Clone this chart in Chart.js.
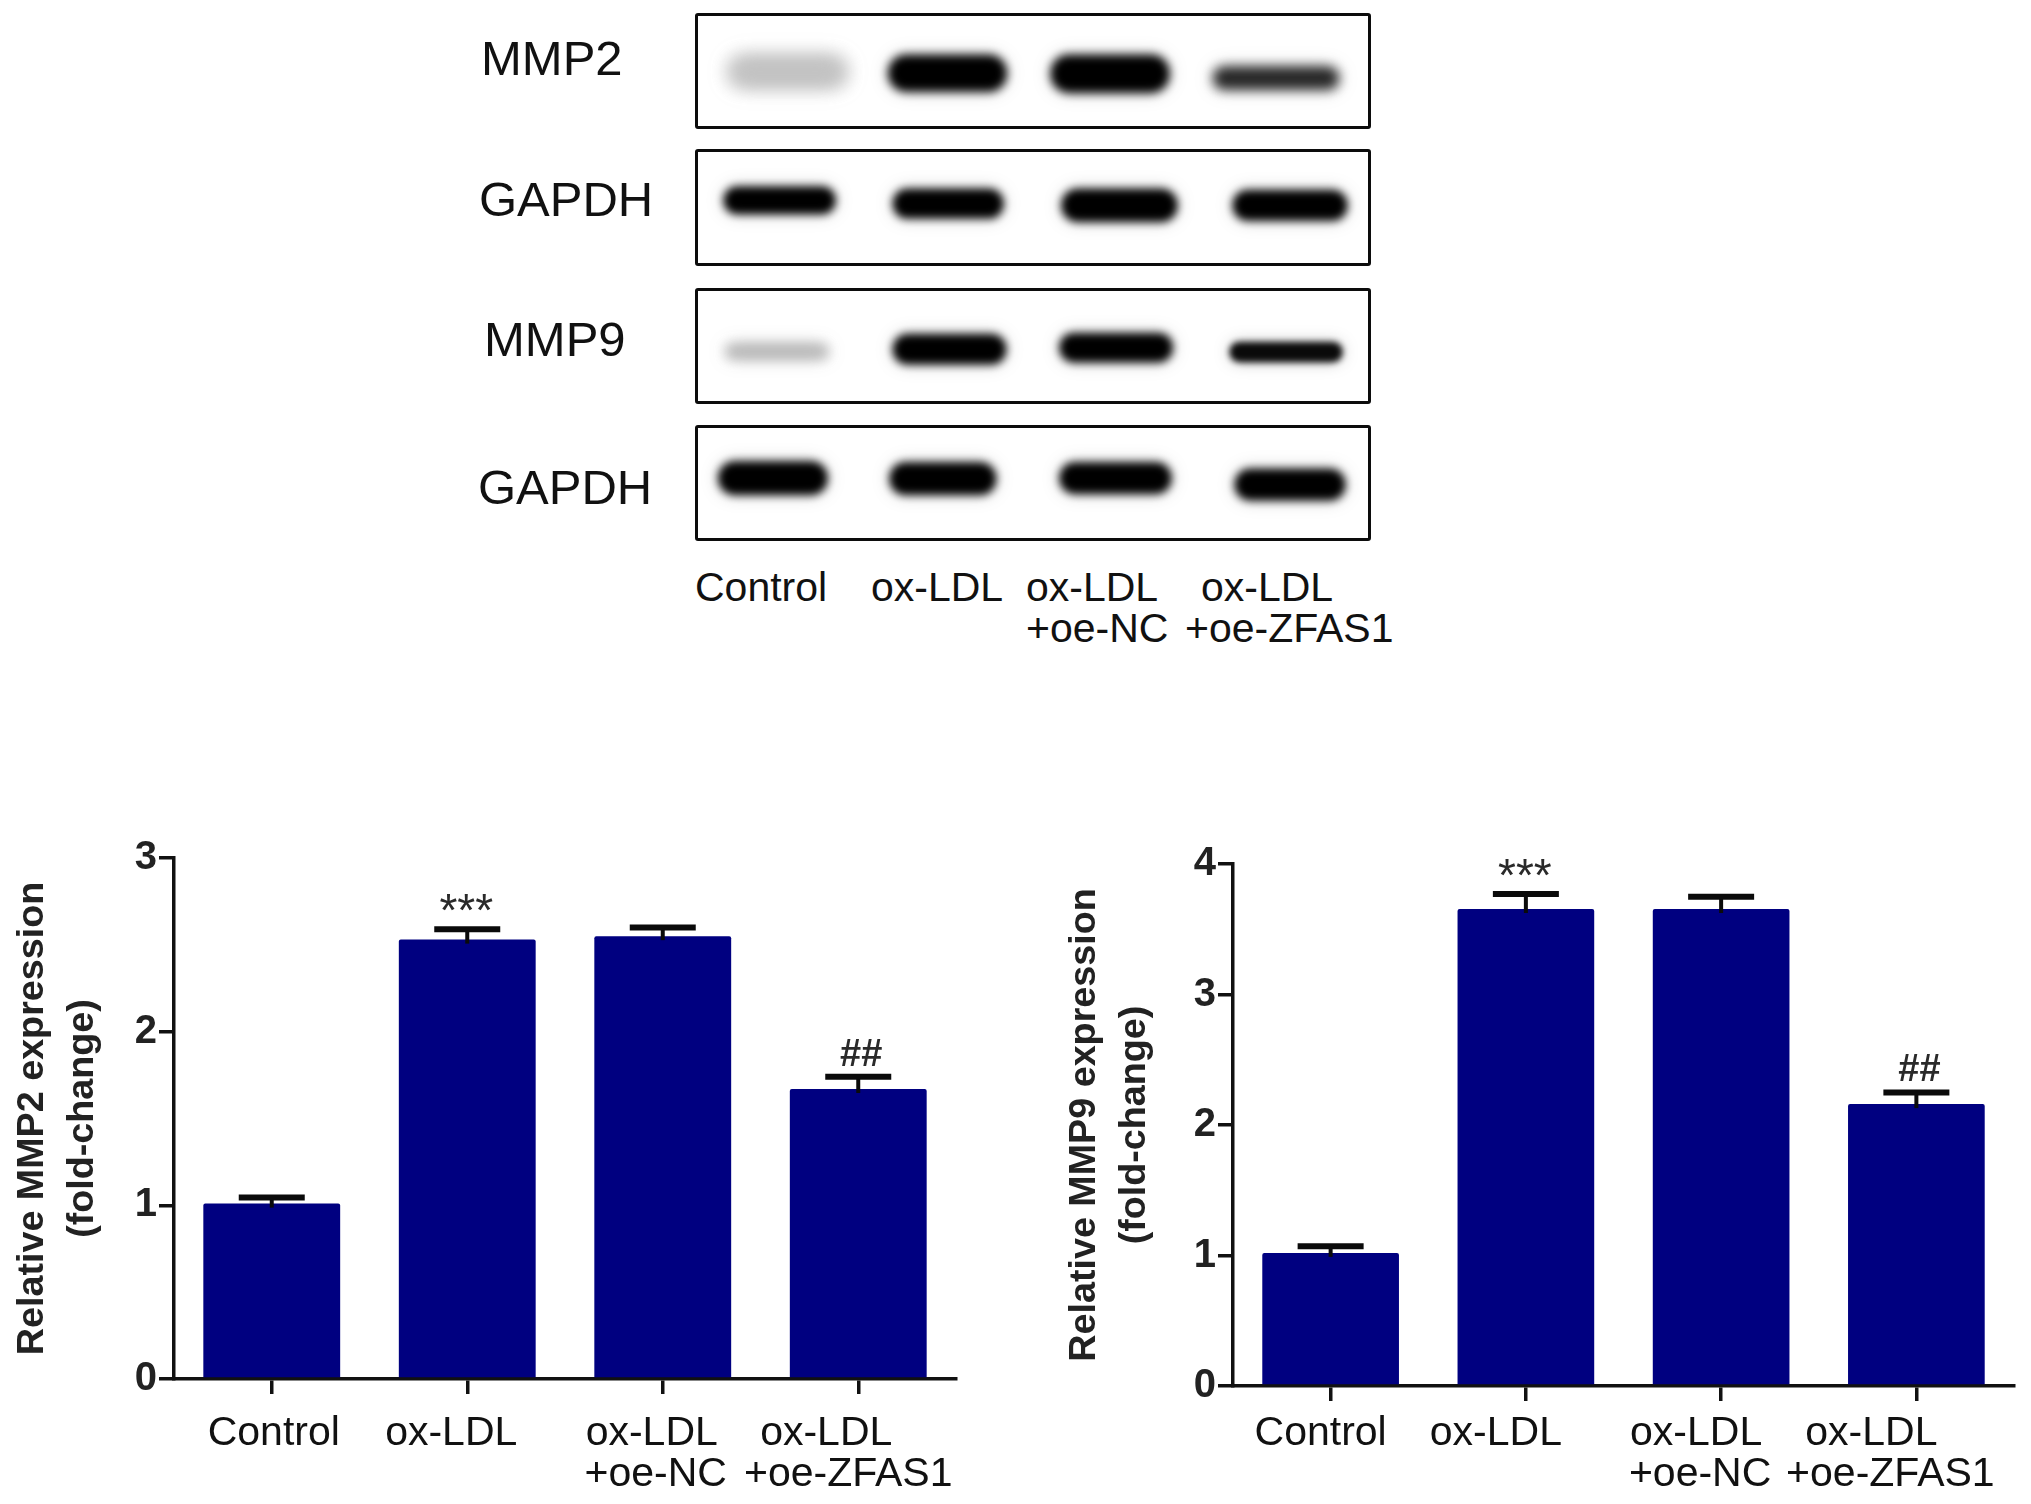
<!DOCTYPE html>
<html><head><meta charset="utf-8">
<script src="https://cdn.jsdelivr.net/npm/chart.js@4"></script>
<style>
html,body{margin:0;padding:0;background:#fff;width:2031px;height:1504px;overflow:hidden}
body{position:relative;font-family:"Liberation Sans",Arial,sans-serif}
canvas{position:absolute;display:block}
.frame{position:absolute;box-sizing:border-box;border:3.5px solid #0c0c0c;border-radius:3px;overflow:hidden;background:#fff}
.lbl{position:absolute;white-space:nowrap;color:#111;line-height:1;transform:translateY(-50%)}
</style></head><body>
<div id="root"></div>
<script>
// ---- bar chart data ----
const groups = [['Control'],['ox-LDL'],['ox-LDL','+oe-NC'],['ox-LDL','+oe-ZFAS1']];
const mmp2Values = [1.01, 2.53, 2.55, 1.67];
const mmp2ErrTop = [1.045, 2.59, 2.60, 1.74];
const mmp9Values = [1.02, 3.655, 3.655, 2.16];
const mmp9ErrTop = [1.07, 3.77, 3.75, 2.25];
const marks = ['', '***', '', '##'];
const mmp2Title = ['Relative MMP2 expression','(fold-change)'];
const mmp9Title = ['Relative MMP9 expression','(fold-change)'];

// ---- blot data: band position across the lane (%), extent down the membrane (%), width (%), shade, softness ----
const blotRows = ['MMP2','GAPDH','MMP9','GAPDH'];
const bandCentre = [[13.4,37.3,61.6,86.4],[12.2,37.4,63,88.5],[11.8,37.6,62.5,87.9],[11.2,36.6,62.4,88.5]];
const bandWidth  = [[17,17.6,17.6,18.6],[16.6,16.4,17.2,17],[15,16.8,16.8,16.8],[16.2,15.8,16.6,16.4]];
const bandTop    = [[39,36,36,47],[32,34,34,35],[50,40,39,47],[31,32,32,38]];
const bandBottom = [[63,69,70,67],[56,60,63,62],[61,67,65,65],[61,61,60,66]];
const bandShade  = [['#c2c2c2','#000','#000','#262626'],['#000','#000','#000','#000'],['#b6b6b6','#000','#000','#0a0a0a'],['#000','#000','#000','#000']];
const bandSoft   = [[9,5,5,6],[4,4,4,4],[6,4,4,3],[4,4,4,4]];

const root = document.getElementById('root');
const FONT = '"Liberation Sans", Arial, sans-serif';
const INK = '#111';

function makeCanvas(parent,left,top,w,h){
  const c=document.createElement('canvas');
  c.width=w;c.height=h;c.style.left=left+'px';c.style.top=top+'px';c.style.width=w+'px';c.style.height=h+'px';
  parent.appendChild(c);return c;
}

// Error bars, group labels and significance marks, placed through the chart's scales
function overlay(errTop,values,shifts,capHalf,labelY){
  return {id:'overlay',afterDatasetsDraw(chart){
    const {ctx,scales:{x,y}}=chart;
    ctx.save();
    ctx.strokeStyle='#0a0a0a';
    errTop.forEach((e,i)=>{
      const px=x.getPixelForValue(i),pt=y.getPixelForValue(e),pb=y.getPixelForValue(values[i]);
      ctx.lineWidth=4;ctx.beginPath();ctx.moveTo(px,pt);ctx.lineTo(px,pb+4);ctx.stroke();
      ctx.lineWidth=6;ctx.beginPath();ctx.moveTo(px-capHalf,pt);ctx.lineTo(px+capHalf,pt);ctx.stroke();
      const m=marks[i];
      if(m){
        const star=m==='***';
        ctx.fillStyle='#2a2a2a';ctx.textAlign='center';ctx.textBaseline='alphabetic';
        ctx.font=(star?'46px ':'bold 38px ')+FONT;
        ctx.fillText(m,px+(star?-1:3),pt+(star?-3:-11));
      }
    });
    ctx.fillStyle=INK;ctx.textAlign='center';ctx.textBaseline='middle';ctx.font='41px '+FONT;
    groups.forEach((lines,i)=>{
      const px=x.getPixelForValue(i);
      lines.forEach((t,j)=>ctx.fillText(t,px+shifts[i][j],labelY+j*41));
    });
    ctx.restore();
  }};
}

function barChart(o){
  const c=makeCanvas(root,o.left,o.top,o.w,o.h);
  new Chart(c,{
    type:'bar',
    data:{labels:groups.map(g=>g.join(' ')),datasets:[{data:o.values,backgroundColor:'#000080',borderWidth:0,borderRadius:2,borderSkipped:'bottom',barPercentage:0.7,categoryPercentage:1}]},
    plugins:[overlay(o.err,o.values,o.shifts,o.cap,o.labelY)],
    options:{
      responsive:false,animation:false,
      layout:{padding:{top:o.padTop,right:o.padRight,left:0,bottom:0}},
      plugins:{legend:{display:false},tooltip:{enabled:false},title:{display:false}},
      scales:{
        x:{offset:true,grid:{offset:false,drawOnChartArea:false,drawTicks:true,tickLength:15,tickColor:INK,lineWidth:3.5},
           border:{color:INK,width:3.5},ticks:{display:false},afterFit(s){s.height=o.axisH;}},
        y:{min:0,max:o.max,grid:{drawOnChartArea:false,drawTicks:true,tickLength:15,tickColor:INK,lineWidth:3.5},
           border:{color:INK,width:3.5},
           ticks:{stepSize:1,color:'#222',padding:2,font:{family:FONT,size:40,weight:'bold'}},
           title:{display:true,text:o.title,color:'#222',padding:{top:o.titlePad,bottom:0},font:{family:FONT,size:37.7,weight:'bold',lineHeight:50/37.7}},
           afterFit(s){s.width=o.axisW;}}
      }
    }
  });
}

barChart({left:0,top:820,w:1000,h:684,padTop:38,padRight:44,axisW:174,axisH:125,max:3,
  values:mmp2Values,err:mmp2ErrTop,title:mmp2Title,titlePad:8,cap:33,labelY:614,
  shifts:[[2],[-16],[-11,-7],[-32,-10]]});
barChart({left:1040,top:820,w:991,h:684,padTop:44,padRight:17,axisW:193,axisH:118,max:4,
  values:mmp9Values,err:mmp9ErrTop,title:mmp9Title,titlePad:20,cap:33,labelY:614,
  shifts:[[-10],[-30],[-25,-21],[-45,-26]]});

// ---- blots ----
const softPlugin={id:'soft',
  beforeDatasetDraw(chart,args){
    const r=chart.options.plugins.soft.row,ctx=chart.ctx;
    ctx.save();
    ctx.filter='blur('+bandSoft[r][args.index]+'px)';
    ctx.shadowColor='rgba(0,0,0,0.28)';ctx.shadowBlur=14;
  },
  afterDatasetDraw(chart){chart.ctx.restore();}};
const frameTops=[13,149,288,425], frameHeights=[116,117,116,116];
const frameLeft=695, frameW=676;
blotRows.forEach((name,r)=>{
  const f=document.createElement('div');f.className='frame';
  f.style.cssText='left:'+frameLeft+'px;top:'+frameTops[r]+'px;width:'+frameW+'px;height:'+frameHeights[r]+'px';
  root.appendChild(f);
  const iw=frameW-7,ih=frameHeights[r]-7;
  const c=makeCanvas(f,0,0,iw,ih);
  new Chart(c,{
    type:'bar',
    data:{datasets:bandCentre[r].map((cx,i)=>({
      data:[{x:cx,y:[bandTop[r][i],bandBottom[r][i]]}],
      backgroundColor:bandShade[r][i],borderRadius:18,borderSkipped:false,grouped:false,
      barThickness:bandWidth[r][i]*iw/100}))},
    plugins:[softPlugin],
    options:{responsive:false,animation:false,
      plugins:{legend:{display:false},tooltip:{enabled:false},soft:{row:r}},
      scales:{x:{type:'linear',min:0,max:100,display:false,offset:false},y:{min:0,max:100,reverse:true,display:false}}}
  });
});

// ---- blot text ----
function label(t,left,cy,size){
  const d=document.createElement('div');d.className='lbl';d.textContent=t;
  d.style.left=left+'px';d.style.top=cy+'px';d.style.fontSize=size+'px';root.appendChild(d);
}
label(blotRows[0],481,58,49);
label(blotRows[1],479,199,49);
label(blotRows[2],484,339,49);
label(blotRows[3],478,487,49);
label(groups[0][0],695,587,41);
label(groups[1][0],871,587,41);
label(groups[2][0],1026,587,41);
label(groups[2][1],1026,628,41);
label(groups[3][0],1201,587,41);
label(groups[3][1],1185,628,41);
</script>
</body></html>
